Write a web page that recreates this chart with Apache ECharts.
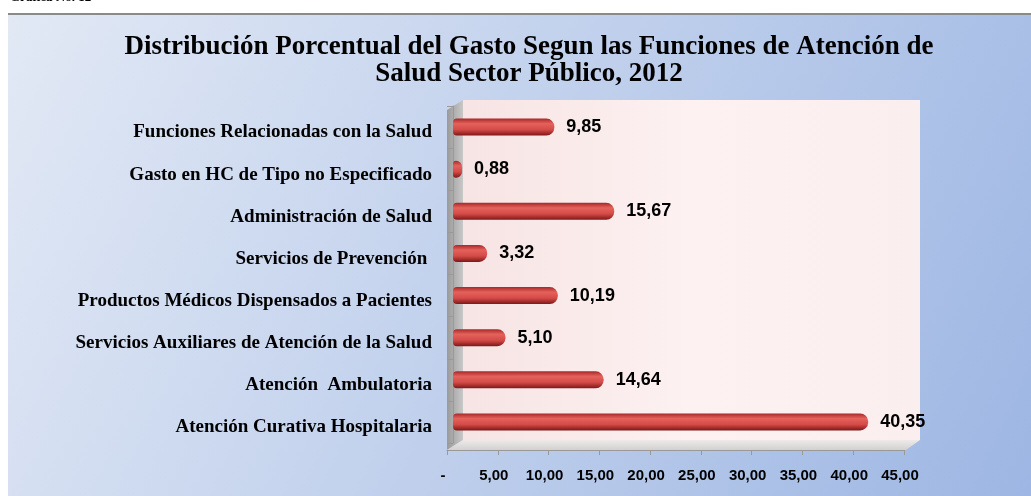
<!DOCTYPE html>
<html>
<head>
<meta charset="utf-8">
<script src="https://cdn.jsdelivr.net/npm/echarts@6/dist/echarts.min.js"></script>
<style>
html,body{margin:0;padding:0;background:#fff;}
#chart{width:1031px;height:496px;}
</style>
</head>
<body>
<div id="chart"></div>
<script>
// categorias de arriba hacia abajo
var categorias = ['Funciones Relacionadas con la Salud', 'Gasto en HC de Tipo no Especificado',
	'Administración de Salud', 'Servicios de Prevención ', 'Productos Médicos Dispensados a Pacientes',
	'Servicios Auxiliares de Atención de la Salud', 'Atención  Ambulatoria', 'Atención Curativa Hospitalaria'];
var porcentajes = [9.85, 0.88, 15.67, 3.32, 10.19, 5.10, 14.64, 40.35];
var tituloGrafica = 'Distribución Porcentual del Gasto Segun las Funciones de Atención de\nSalud Sector Público, 2012';

var myChart = echarts.init(document.getElementById('chart'));

function coma(v) {
	return v.toFixed(2).replace('.', ',');
}

var option = {
	backgroundColor: '#fff',
	animation: false,
	graphic: [
		{
			type: 'rect', z: -10,
			shape: {x: 8, y: 15, width: 1023, height: 481},
			style: {fill: new echarts.graphic.LinearGradient(0, 0, 1, 1, [
				{offset: 0, color: '#e2e9f5'},
				{offset: 1, color: '#9db6e3'}
			])}
		},
		{
			type: 'line', z: -9,
			shape: {x1: 8, y1: 14, x2: 1031, y2: 14},
			style: {stroke: '#8a8a8a', lineWidth: 2}
		},
		{
			type: 'text', z: -9, left: 10, top: -9,
			style: {text: 'Gráfica No. 12', font: 'bold 13px "Liberation Serif"', fill: '#000'}
		},
		{
			// pared del fondo
			type: 'rect', z: -8,
			shape: {x: 463, y: 100, width: 457, height: 340},
			style: {fill: new echarts.graphic.LinearGradient(0, 0, 1, 0, [
				{offset: 0, color: '#f7e4e4'},
				{offset: 0.5, color: '#fdf1f1'},
				{offset: 1, color: '#fbeeee'}
			])}
		},
		{
			// pared lateral
			type: 'polygon', z: -8,
			shape: {points: [[447, 110], [463, 100], [463, 440], [447, 450]]},
			style: {fill: new echarts.graphic.LinearGradient(0, 0, 1, 0, [
				{offset: 0, color: '#9a9a9a'},
				{offset: 1, color: '#c8c8c8'}
			])}
		},
		{
			// piso
			type: 'polygon', z: -8,
			shape: {points: [[447, 450], [463, 440], [920, 440], [906, 450]]},
			style: {fill: new echarts.graphic.LinearGradient(0, 0, 0, 1, [
				{offset: 0, color: '#eeeaea'},
				{offset: 1, color: '#d2d0d0'}
			])}
		}
	],
	title: {
		text: tituloGrafica,
		left: 524,
		top: 29,
		textAlign: 'center',
		textStyle: {
			fontFamily: 'Liberation Serif',
			fontWeight: 'bold',
			fontSize: 27,
			lineHeight: 27,
			color: '#000'
		}
	},
	grid: [
		{left: 453, top: 106, width: 463, height: 337},
		// plano frontal para la escala de abajo
		{left: 447, top: 106, width: 457, height: 344}
	],
	xAxis: [
		{
			type: 'value',
			gridIndex: 0,
			min: 0,
			max: 45,
			interval: 5,
			show: false,
			splitLine: {show: false}
		},
		{
			type: 'value',
			gridIndex: 1,
			min: 0,
			max: 45,
			interval: 5,
			axisLine: {show: true, lineStyle: {color: '#999'}},
			axisTick: {show: true, length: 5, lineStyle: {color: '#999'}},
			splitLine: {show: false},
			axisLabel: {
				margin: 18,
				color: '#000',
				formatter: function (value) {
					return '{a|' + (value === 0 ? '-' : coma(value)) + '}';
				},
				rich: {
					a: {
						fontFamily: 'Liberation Sans',
						fontWeight: 'bold',
						fontSize: 15,
						color: '#000',
						padding: [0, 8, 0, 0]
					}
				}
			}
		}
	],
	yAxis: [
		{
			type: 'category',
			gridIndex: 0,
			inverse: true,
			data: categorias,
			axisLine: {show: true, lineStyle: {color: '#999'}},
			axisTick: {show: true, length: 6, lineStyle: {color: '#999'}},
			offset: 6,
			axisLabel: {
				margin: 15,
				color: '#000',
				formatter: function (value) {
					return '{a|' + value + '}';
				},
				rich: {
					a: {
						fontFamily: 'Liberation Serif',
						fontWeight: 'bold',
						fontSize: 19,
						color: '#000',
						padding: [11, 0, 0, 0]
					}
				}
			}
		},
		{
			type: 'value',
			gridIndex: 1,
			show: false,
			min: 0,
			max: 1
		}
	],
	series: [{
		type: 'bar',
		xAxisIndex: 0,
		yAxisIndex: 0,
		data: porcentajes,
		barWidth: 17,
		itemStyle: {
			borderRadius: [4, 8, 8, 4],
			color: new echarts.graphic.LinearGradient(0, 0, 0, 1, [
				{offset: 0, color: '#a82828'},
				{offset: 0.3, color: '#e5625c'},
				{offset: 0.65, color: '#d44b47'},
				{offset: 1, color: '#7e1717'}
			])
		},
		label: {
			show: true,
			position: 'right',
			distance: 12,
			color: '#000',
			fontFamily: 'Liberation Sans',
			fontWeight: 'bold',
			fontSize: 18,
			formatter: function (p) {
				return coma(p.value);
			}
		}
	}]
};
myChart.setOption(option, true);
</script>
</body>
</html>
